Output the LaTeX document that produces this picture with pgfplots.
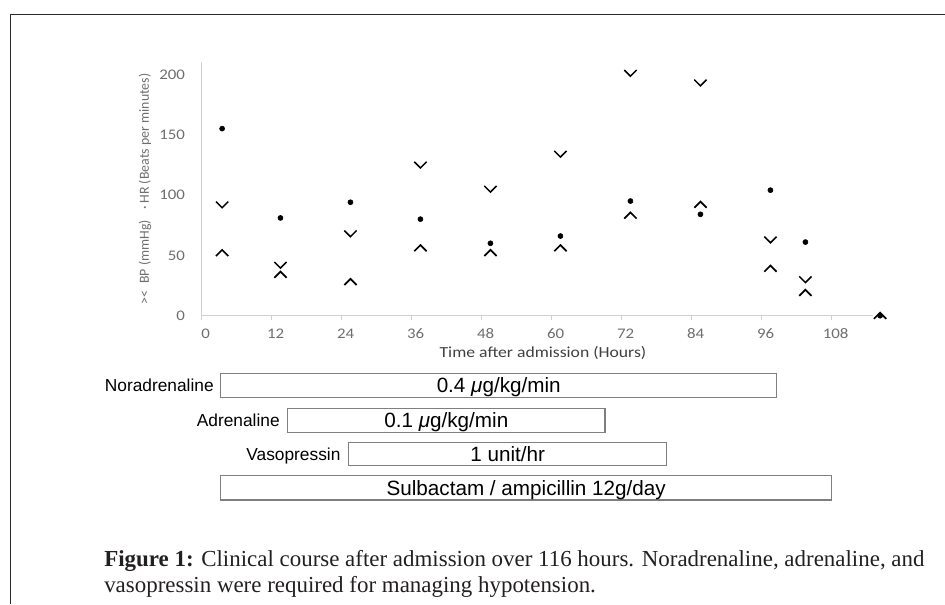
\documentclass[border=0pt]{standalone}
\usepackage{fontspec}
\setmainfont{Liberation Serif}
\newfontfamily\calibri[Numbers=Lining]{Carlito}
\newfontfamily\calibriwide[Numbers=Lining, FakeStretch=1.15]{Carlito}
\newfontfamily\arial{Liberation Sans}
\usepackage{pgfplots}
\pgfplotsset{compat=1.18}
\definecolor{tickgray}{HTML}{6E6E6E}
\definecolor{axgray}{HTML}{D0D0D0}
\definecolor{boxgray}{HTML}{7F7F7F}
\definecolor{labgray}{HTML}{404040}
\definecolor{framec}{HTML}{2A2A2A}
\definecolor{capc}{HTML}{231F20}
\pgfdeclareplotmark{chevdown}{%
  \pgfpathmoveto{\pgfqpoint{-\pgfplotmarksize}{0.5\pgfplotmarksize}}%
  \pgfpathlineto{\pgfqpoint{0pt}{-0.5\pgfplotmarksize}}%
  \pgfpathlineto{\pgfqpoint{\pgfplotmarksize}{0.5\pgfplotmarksize}}%
  \pgfusepathqstroke}
\pgfdeclareplotmark{chevup}{%
  \pgfpathmoveto{\pgfqpoint{-\pgfplotmarksize}{-0.5\pgfplotmarksize}}%
  \pgfpathlineto{\pgfqpoint{0pt}{0.5\pgfplotmarksize}}%
  \pgfpathlineto{\pgfqpoint{\pgfplotmarksize}{-0.5\pgfplotmarksize}}%
  \pgfusepathqstroke}
\begin{document}
\begin{tikzpicture}
\useasboundingbox (0,0) rectangle (708.75pt,-453pt);
\begin{axis}[
  at={(151.275pt,-236.775pt)}, anchor=south west,
  scale only axis, width=503.1pt, height=190.1pt,
  xmin=0, xmax=115, ymin=0, ymax=210,
  axis lines*=left,
  axis line style={draw=axgray, line width=0.8pt, -},
  xtick={0,12,...,108}, ytick={0,50,...,200},
  tick align=outside, major tick length=3pt,
  xtick style={draw=axgray, line width=0.8pt},
  ytick style={draw=none},
  ticklabel style={font=\calibriwide\fontsize{11}{13}\selectfont, text=tickgray},
  xticklabel style={anchor=base, inner sep=0pt, xshift=3pt, yshift=-14.3pt},
  yticklabel style={xshift=-6pt},
  /pgf/number format/assume math mode=true,
  xlabel={Time after admission (Hours)},
  xlabel style={at={(axis description cs:0.5,0)}, anchor=center, yshift=-27.7pt, xshift=4.4pt,
    font=\calibriwide\fontsize{11.5}{14}\selectfont, text=labgray},
  ylabel={><\enspace BP (mmHg)\enspace\ · HR (Beats per minutes)},
  ylabel style={at={(axis description cs:0,0.5)}, anchor=center, yshift=42.5pt,
    font=\calibri\fontsize{10.4}{12}\selectfont, text=tickgray},
  clip=false,
]
% Heart rate (dots)
\addplot[only marks, mark=*, mark size=1.9pt, black] coordinates {
 (3.5,155) (13.5,81) (25.5,94) (37.5,80) (49.5,60) (61.5,66)
 (73.5,95) (85.5,84) (97.5,104) (103.5,61) (116.3,0)};
% Systolic BP (v)
\addplot[only marks, mark=chevdown, mark size=4.6pt, black, mark options={line width=1.15pt}] coordinates {
 (3.5,92) (13.5,42) (25.5,68) (37.5,125) (49.5,105) (61.5,134)
 (73.5,201) (85.5,193) (97.5,63) (103.5,30)};
% Diastolic BP (^)
\addplot[only marks, mark=chevup, mark size=4.6pt, black, mark options={line width=1.3pt}] coordinates {
 (3.5,52) (13.5,34) (25.5,28) (37.5,56) (49.5,52) (61.5,56)
 (73.5,83) (85.5,92) (97.5,39) (103.5,19) (116.3,0)};
\end{axis}
\begin{scope}[x=0.75pt,y=-0.75pt]
% outer frame
\draw[framec, line width=1.1pt] (10.7,604) -- (10.7,14.3) -- (945,14.3);
% treatment boxes
\draw[boxgray, line width=0.9pt] (220.7,373.3) rectangle (776.7,397.3);
\draw[boxgray, line width=0.9pt] (287.7,408.3) rectangle (605,432.3);
\draw[boxgray, line width=0.9pt] (348.7,442.7) rectangle (666.7,465.3);
\draw[boxgray, line width=0.9pt] (220.7,475.7) rectangle (831.7,500);
\begin{scope}[every node/.style={inner sep=0pt, anchor=base east, font=\arial\fontsize{13}{15}\selectfont}]
\node at (214,391.5) {Noradrenaline};
\node at (280,426.5) {Adrenaline};
\node at (340.7,460.2) {Vasopressin};
\end{scope}
\begin{scope}[every node/.style={inner sep=0pt, anchor=base, font=\arial\fontsize{15.5}{18}\selectfont}]
\node at (498.7,392.5) {0.4 {\itshape μ}g/kg/min};
\node at (446.3,427.5) {0.1 {\itshape μ}g/kg/min};
\node at (507.7,461.2) {1 unit/hr};
\node at (526.2,495.1) {Sulbactam / ampicillin 12g/day};
\end{scope}
% caption
\begin{scope}[every node/.style={inner sep=0pt, anchor=base west, text=capc, font=\fontsize{17.2}{20}\selectfont}]
\node at (104,566) {\textbf{Figure 1:} Clinical course after admission over 116 hours. Noradrenaline, adrenaline, and};
\node at (104,592) {vasopressin were required for managing hypotension.};
\end{scope}
\end{scope}
\end{tikzpicture}
\end{document}
